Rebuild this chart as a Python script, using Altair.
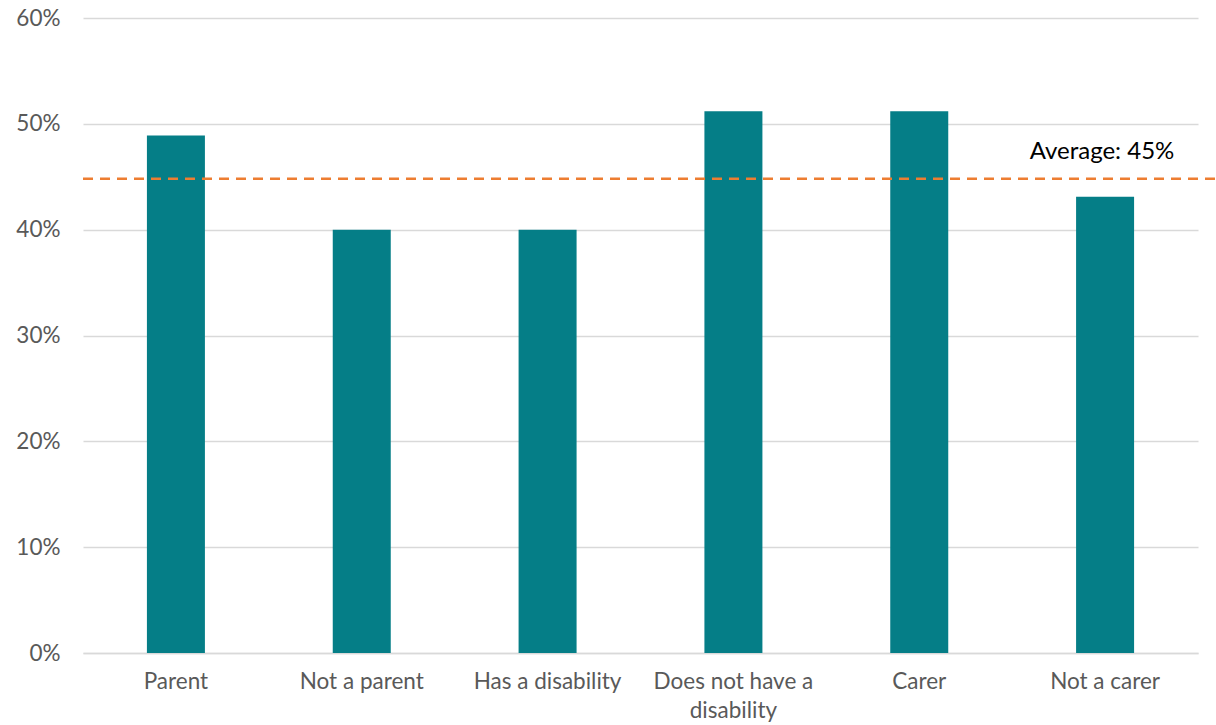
import altair as alt
import pandas as pd

categories = ["Parent", "Not a parent", "Has a disability", "Does not have a disability", "Carer", "Not a carer"]
values = [0.489, 0.400, 0.400, 0.512, 0.512, 0.431]
average = [0.448]
average_label = ["Average: 45%"]
y_ticks = [0, 0.1, 0.2, 0.3, 0.4, 0.5, 0.6]

df = pd.DataFrame({"category": categories, "value": values})
avg_df = pd.DataFrame({"avg": average, "label": average_label})

W, H = 1115, 635
FONT = "Lato"
FS = 22.5

x_enc = alt.X("category:N", sort=categories, title=None,
              scale=alt.Scale(paddingInner=0, paddingOuter=0),
              axis=alt.Axis(labelAngle=0, labelFontSize=FS, labelColor="#595959", labelFont=FONT,
                            labelPadding=17, ticks=False, grid=False, domainColor="#d9d9d9", domainWidth=1.5,
                            labelLineHeight=29,
                            labelExpr="datum.label == 'Does not have a disability' ? ['Does not have a', 'disability'] : datum.label"))
y_scale = alt.Scale(domain=[0, 0.6], nice=False)

bars = alt.Chart(df).mark_bar(size=58, color="#057e87").encode(
    x=x_enc,
    y=alt.Y("value:Q", scale=y_scale, title=None,
            axis=alt.Axis(values=y_ticks, format=".0%", labelFontSize=FS, labelColor="#595959",
                          labelFont=FONT, labelPadding=23, ticks=False, domain=False,
                          gridColor="#d9d9d9", gridWidth=1.5)),
)

rule = alt.Chart(avg_df).mark_rule(color="#ed7d31", strokeWidth=2.5, strokeDash=[10, 7]).encode(
    y=alt.Y("avg:Q", scale=y_scale),
    x=alt.value(0),
    x2=alt.value(W + 18),
)

label = alt.Chart(avg_df).mark_text(font=FONT, fontSize=24, color="#000000", align="center", baseline="middle").encode(
    y=alt.value(134),
    x=alt.value(1019),
    text="label:N",
)

chart = alt.layer(bars, rule, label).properties(
    width=W, height=H,
    background="white",
    autosize=alt.AutoSizeParams(type="none"),
    padding={"left": 83, "top": 18, "right": 18, "bottom": 72},
).configure_view(strokeWidth=0, stroke=None)

chart.save("out.html", embed_options={"renderer": "svg", "actions": False})
